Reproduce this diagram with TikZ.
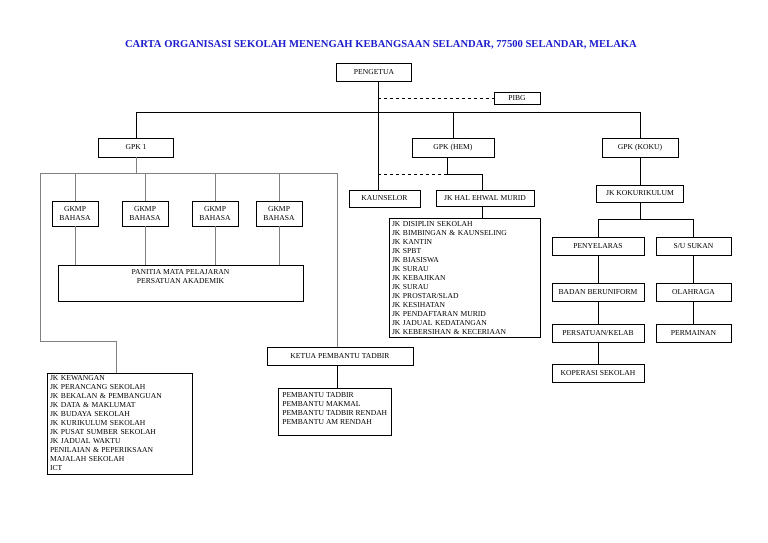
\documentclass[tikz,border=0pt]{standalone}
\usepackage{fontspec}
\setmainfont{Liberation Serif}
\newcommand{\lbl}{\fontsize{7.6}{9}\selectfont}
\definecolor{titleblue}{RGB}{28,28,205}
\tikzstyle{unit} = [rectangle, minimum height=18pt, inner sep=1pt, text centered, draw=black, line width=0.8pt, font=\lbl]
\tikzstyle{listbox} = [rectangle, align=left, inner sep=3pt, draw=black, line width=0.8pt, font=\lbl]
\tikzstyle{link} = [draw=black, line width=0.6pt]
\tikzstyle{framelink} = [draw=black!50, line width=0.6pt]
\tikzstyle{dashlink} = [link, dashed]

\begin{document}
\begin{tikzpicture}[x=1pt, y=-1pt, node distance=70pt]
    \useasboundingbox (0,0) rectangle (768,543);

    % Title
    \node (title) [font=\fontsize{10.6}{12}\selectfont\bfseries, text=titleblue] at (381,45) {CARTA ORGANISASI SEKOLAH MENENGAH KEBANGSAAN SELANDAR, 77500 SELANDAR, MELAKA};

    % Top
    \node (pengetua) [unit, minimum width=75pt] at (374,72) {PENGETUA};
    \node (pibg) [unit, minimum width=46pt, minimum height=12pt, right of=pengetua, xshift=73pt, yshift=-26pt] {PIBG};
    \node (gpkhem) [unit, minimum width=82pt, minimum height=19pt, below of=pengetua, xshift=79pt, yshift=-5.5pt] {GPK (HEM)};
    \node (gpk1) [unit, minimum width=75pt, minimum height=19pt, left of=gpkhem, xshift=-247pt] {GPK 1};
    \node (gpkkoku) [unit, minimum width=76pt, minimum height=19pt, right of=gpkhem, xshift=117pt] {GPK (KOKU)};

    % GPK 1
    \node (gkmp2) [unit, minimum width=46pt, minimum height=25pt, align=center, below of=gpk1, xshift=9pt, yshift=4pt] {GKMP\\BAHASA};
    \node (gkmp1) [unit, minimum width=46pt, minimum height=25pt, align=center, left of=gkmp2] {GKMP\\BAHASA};
    \node (gkmp3) [unit, minimum width=46pt, minimum height=25pt, align=center, right of=gkmp2] {GKMP\\BAHASA};
    \node (gkmp4) [unit, minimum width=46pt, minimum height=25pt, align=center, right of=gkmp3, xshift=-6pt] {GKMP\\BAHASA};
    \node (panitia) [unit, minimum width=245pt, minimum height=36pt, below of=gkmp2, xshift=35.5pt,
        label={[anchor=north, font=\lbl, align=center, inner sep=4pt]north:{PANITIA MATA PELAJARAN\\PERSATUAN AKADEMIK}}] {};
    \node (ketua) [unit, minimum width=146pt, below of=panitia, xshift=159.5pt, yshift=-3pt] {KETUA PEMBANTU TADBIR};
    \node (pembantu) [unit, minimum width=113pt, minimum height=47pt, below of=ketua, xshift=-5.5pt, yshift=14.5pt,
        label={[anchor=north west, font=\lbl, align=left, inner xsep=4.5pt, inner ysep=4pt]north west:{PEMBANTU TADBIR\\PEMBANTU MAKMAL\\PEMBANTU TADBIR RENDAH\\PEMBANTU AM RENDAH}}] {};
    \node (jkkew) [listbox, text width=139pt, below of=panitia, xshift=-61pt, yshift=-70pt] {JK KEWANGAN\\JK PERANCANG SEKOLAH\\JK BEKALAN \& PEMBANGUAN\\JK DATA \& MAKLUMAT\\JK BUDAYA SEKOLAH\\JK KURIKULUM SEKOLAH\\JK PUSAT SUMBER SEKOLAH\\JK JADUAL WAKTU\\PENILAIAN \& PEPERIKSAAN\\MAJALAH SEKOLAH\\ICT};

    % GPK (HEM)
    \node (kaunselor) [unit, minimum width=71pt, minimum height=17pt, below of=gpkhem, xshift=-68.5pt, yshift=19pt] {KAUNSELOR};
    \node (jkhem) [unit, minimum width=98pt, minimum height=16pt, right of=kaunselor, xshift=30.5pt] {JK HAL EHWAL MURID};
    \node (hemlist) [listbox, text width=145pt, below of=jkhem, xshift=-20.5pt, yshift=-9.5pt] {JK DISIPLIN SEKOLAH\\JK BIMBINGAN \& KAUNSELING\\JK KANTIN\\JK SPBT\\JK BIASISWA\\JK SURAU\\JK KEBAJIKAN\\JK SURAU\\JK PROSTAR/SLAD\\JK KESIHATAN\\JK PENDAFTARAN MURID\\JK JADUAL KEDATANGAN\\JK KEBERSIHAN \& KECERIAAN};

    % GPK (KOKU)
    \node (jkkoku) [unit, minimum width=87pt, minimum height=17pt, below of=gpkkoku, yshift=24pt] {JK KOKURIKULUM};
    \node (penyelaras) [unit, minimum width=92pt, below of=jkkoku, xshift=-42pt, yshift=17.5pt] {PENYELARAS};
    \node (sukan) [unit, minimum width=75pt, right of=penyelaras, xshift=25.5pt] {S/U SUKAN};
    \node (badan) [unit, minimum width=92pt, below of=penyelaras, yshift=24pt] {BADAN BERUNIFORM};
    \node (olahraga) [unit, minimum width=75pt, right of=badan, xshift=25.5pt] {OLAHRAGA};
    \node (persatuan) [unit, minimum width=92pt, below of=badan, yshift=29pt] {PERSATUAN/KELAB};
    \node (permainan) [unit, minimum width=75pt, right of=persatuan, xshift=25.5pt] {PERMAINAN};
    \node (koperasi) [unit, minimum width=92pt, below of=persatuan, yshift=29.5pt] {KOPERASI SEKOLAH};

    % Helper points
    \path (pengetua.south) ++(0,31) coordinate (bus);
    \path (gpkhem.south) ++(-6,17) coordinate (hemfork);
    \path (gpk1.south) ++(0,16) coordinate (frametop);
    \path (frametop) ++(-96,0) coordinate (frameleft);
    \path (jkkoku.south) ++(0,17) coordinate (kokufork);

    % Lines
    \draw [link] (gpk1) |- (bus) -| (gpkkoku);
    \draw [link] (gpkhem) -- (gpkhem |- bus);
    \draw [link] ([xshift=4pt]pengetua.south) coordinate (spine) -- (spine |- kaunselor.north);
    \draw [dashlink] (spine |- pibg) -- (pibg);
    \draw [link] ([xshift=-6pt]gpkhem.south) -- (hemfork) -| ([xshift=-3pt]jkhem.north);
    \draw [dashlink] (spine |- hemfork) -- (hemfork);
    \draw [link] ([xshift=-3pt]jkhem.south) -- ([xshift=-3pt]jkhem.south |- hemlist.north);

    \draw [framelink] (gpk1) -- (frametop);
    \draw [framelink] ([xshift=-3pt]ketua.north) |- (frameleft) -- ++(0,168) -| ([xshift=-3.5pt]jkkew.north);
    \foreach \g in {gkmp1,gkmp2,gkmp3,gkmp4} {
        \draw [framelink] (\g) -- (\g |- frametop);
        \draw [framelink] (\g) -- (\g |- panitia.north);
    }
    \draw [link] ([xshift=-3pt]ketua.south) -- ([xshift=-3pt]ketua.south |- pembantu.north);

    \draw [link] (gpkkoku) -- (jkkoku);
    \draw [link] (jkkoku) -- (kokufork);
    \draw [link] (kokufork) -| (penyelaras);
    \draw [link] (kokufork) -| (sukan);
    \draw [link] (penyelaras) -- (badan);
    \draw [link] (badan) -- (persatuan);
    \draw [link] (persatuan) -- (koperasi);
    \draw [link] (sukan) -- (olahraga);
    \draw [link] (olahraga) -- (permainan);
\end{tikzpicture}
\end{document}
